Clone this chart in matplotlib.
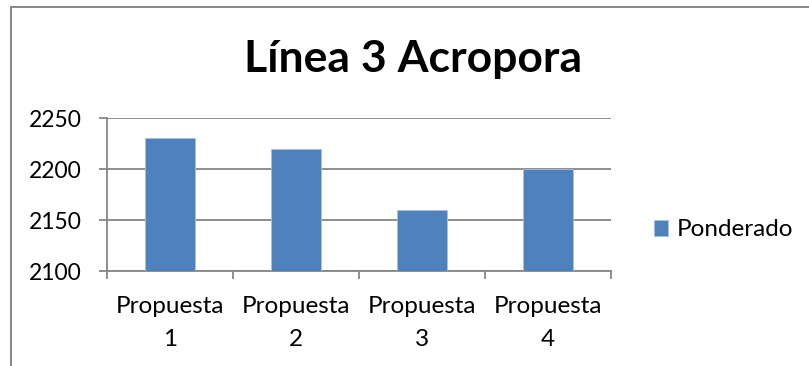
import matplotlib.pyplot as plt
from matplotlib.lines import Line2D

categories = ["Propuesta\n1", "Propuesta\n2", "Propuesta\n3", "Propuesta\n4"]
ponderado = [2230, 2220, 2160, 2200]
y_ticks = [2100, 2150, 2200, 2250]

W, H = 809, 366
plt.rcParams["font.family"] = ["Lato", "DejaVu Sans"]

fig = plt.figure(figsize=(W / 100, H / 100), dpi=100)
ax = fig.add_axes([107 / W, 1 - 271 / H, (611 - 107) / W, (271 - 118) / H])

grey = "#868686"
x = range(len(categories))
ax.bar(x, ponderado, width=0.4, color="#4F81BD", edgecolor="#a9c0de",
       linewidth=0.6, label="Ponderado", zorder=3)

ax.set_ylim(y_ticks[0], y_ticks[-1])
ax.set_xlim(-0.5, len(categories) - 0.5)
ax.set_yticks(y_ticks)
ax.yaxis.grid(True, color=grey, linewidth=1.3, zorder=0)
ax.tick_params(axis="y", length=6, width=1.3, color=grey, pad=12,
               labelsize=16.5)

# category labels sit between the boundary ticks
ax.set_xticks(list(x))
ax.set_xticklabels(categories, fontsize=17.5, linespacing=1.7)
ax.tick_params(axis="x", length=0, pad=18)
ax.set_xticks([i - 0.5 for i in range(len(categories) + 1)], minor=True)
ax.tick_params(axis="x", which="minor", length=6, width=1.3, color=grey)

for side in ["top", "right"]:
    ax.spines[side].set_visible(False)
for side in ["left", "bottom"]:
    ax.spines[side].set_color(grey)
    ax.spines[side].set_linewidth(1.3)

fig.text(413 / W, 1 - 72 / H, "Línea 3 Acropora", ha="center",
         va="baseline", fontsize=32, fontweight="bold")

ax.legend(loc="center left", bbox_to_anchor=(632 / W, 1 - 230 / H),
          bbox_transform=fig.transFigure, frameon=False, fontsize=17.5,
          handlelength=0.6, handleheight=0.6, handletextpad=0.35)

# chart frame
fig.add_artist(Line2D([10.5 / W, 1], [1 - 6.5 / H] * 2, color=grey, lw=1.4))
fig.add_artist(Line2D([10.5 / W] * 2, [0, 1 - 6.5 / H], color=grey, lw=1.4))

fig.savefig("out.png", dpi=100)
